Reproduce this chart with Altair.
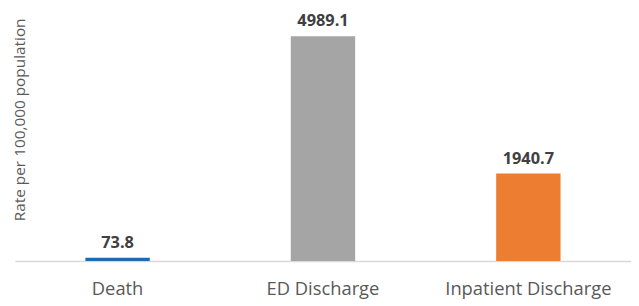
import altair as alt
import pandas as pd

categories = ["Death", "ED Discharge", "Inpatient Discharge"]
values = [73.8, 4989.1, 1940.7]
colors = ["#1F6BAF", "#A5A5A5", "#ED7D31"]
labels = ["73.8", "4989.1", "1940.7"]

df = pd.DataFrame({"cat": categories, "val": values, "color": colors, "label": labels})

x = alt.X("cat:N", sort=categories,
          scale=alt.Scale(paddingInner=0.6865, paddingOuter=0.343),
          axis=alt.Axis(title=None, labelAngle=0, ticks=False, domainColor="#D9D9D9",
                        domainWidth=1.5, labelColor="#595959", labelFontSize=18.5,
                        labelFont="Open Sans", labelPadding=19, grid=False))
y = alt.Y("val:Q", scale=alt.Scale(domain=[0, 5363], nice=False, zero=True),
          axis=alt.Axis(title="Rate per 100,000 population", labels=False, ticks=False,
                        domain=False, grid=False, titleAngle=270, titleX=5, titleY=101,
                        titleAlign="center", titleBaseline="middle", titleFontSize=15.5,
                        titleFontWeight="normal", titleColor="#595959", titleFont="Open Sans"))

bars = alt.Chart(df).mark_bar().encode(x=x, y=y, color=alt.Color("color:N", scale=None))
text = alt.Chart(df).mark_text(baseline="bottom", dy=-7, fontSize=16.5, fontWeight="bold",
                               font="Open Sans", color="#404040").encode(
    x=alt.X("cat:N", sort=categories), y="val:Q", text="label:N")

chart = alt.layer(bars, text).properties(
    width=622, height=244,
    autosize=alt.AutoSizeParams(type="none"),
    padding={"left": 7, "top": 10, "right": 0, "bottom": 40},
).configure_view(stroke=None)

chart.save("out.html", embed_options={"renderer": "svg", "actions": False})
